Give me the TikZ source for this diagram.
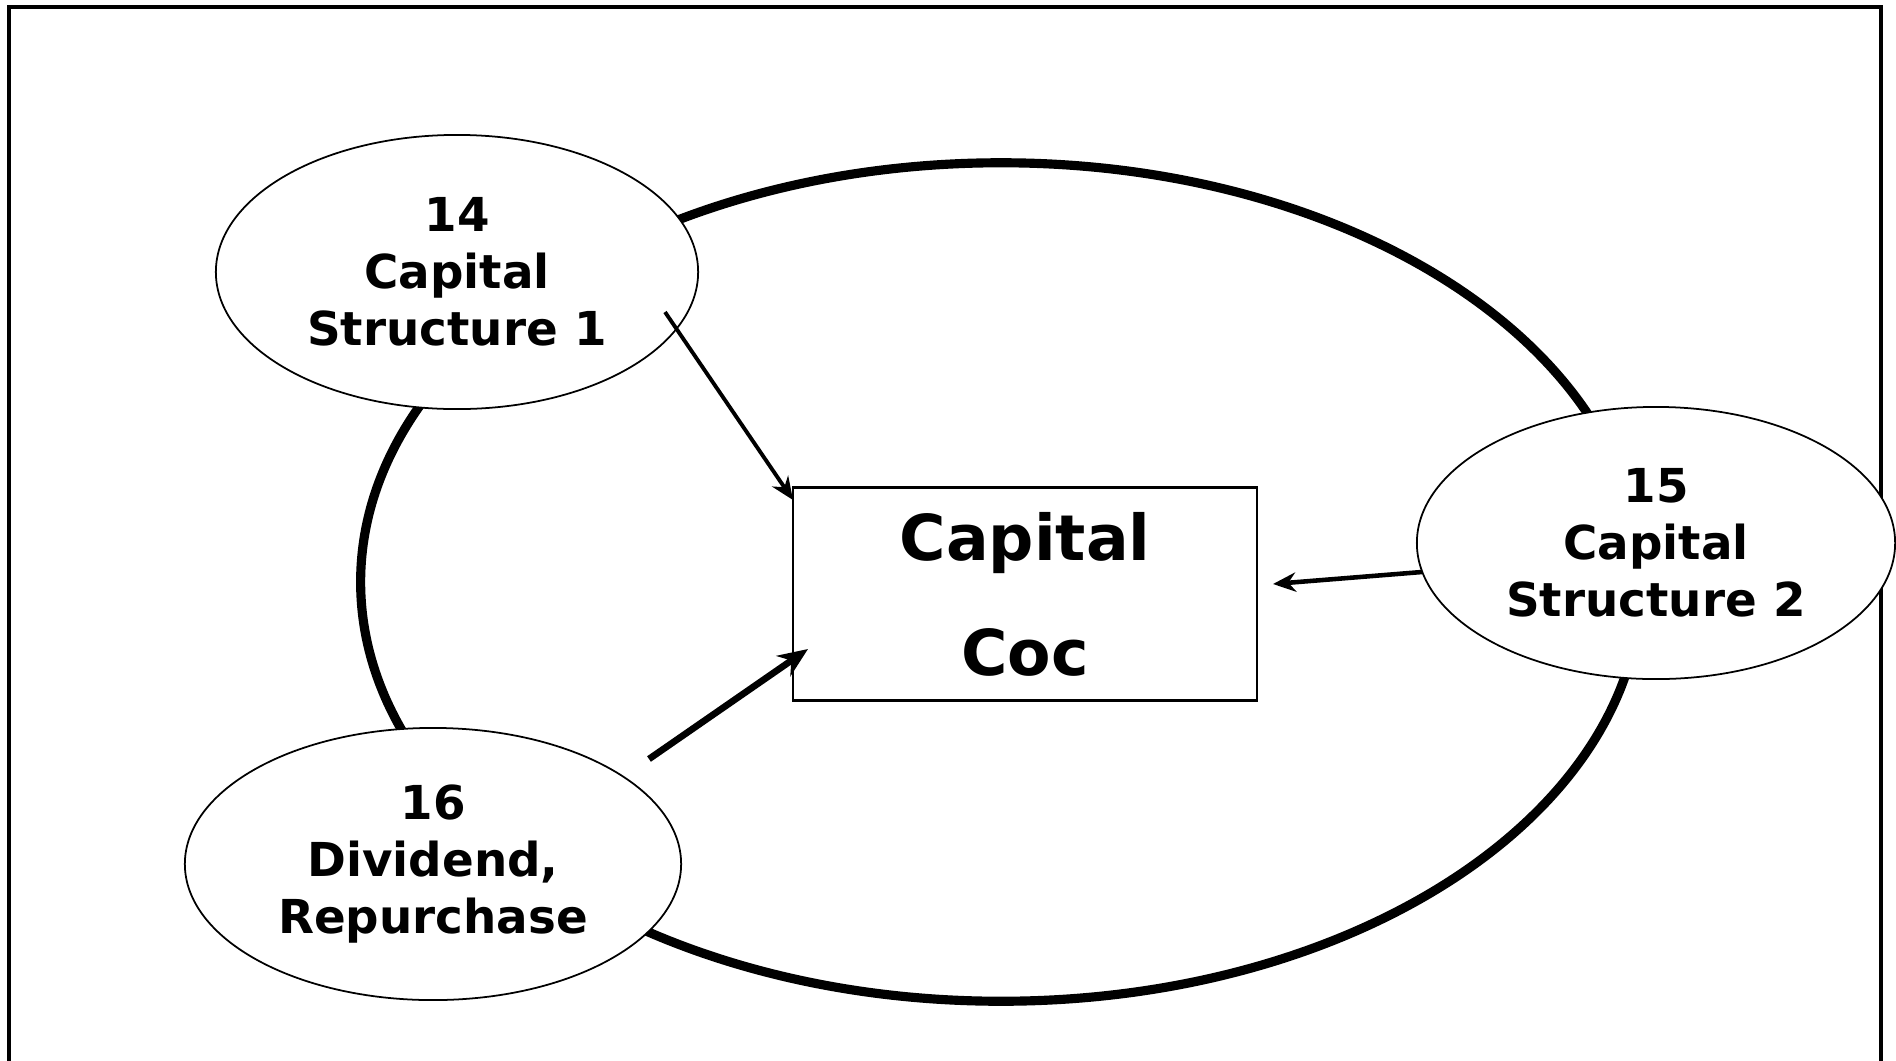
\documentclass[tikz,border=0pt]{standalone}
\usepackage{fontspec}
\setmainfont{DejaVu Sans}
\usetikzlibrary{shapes.geometric, arrows.meta}
\tikzset{
  topic/.style={draw, ellipse, fill=white, line width=0.5pt, inner sep=0pt, align=center,
    font=\fontsize{13.3}{16.2}\selectfont\bfseries},
  link/.style={->, >={Stealth[length=6.5pt, width=5.5pt]}},
}

\begin{document}
\begin{tikzpicture}[x=0.01cm, y=-0.01cm]
\useasboundingbox (0,0) rectangle (1896,1060);
\draw [line width=0.9pt] (9,1090) -- (9,7) -- (1881,7) -- (1881,1090);
\node [draw, ellipse, line width=2.6pt, minimum width=12.8cm, minimum height=8.38cm] (cycle) at (1001,582) {};
\node [draw, line width=0.7pt, minimum width=4.64cm, minimum height=2.13cm, align=center,
  font=\fontsize{18}{32.7}\selectfont\bfseries] (coc) at (1025,594) {Capital\\Coc};
\node [topic, minimum width=4.82cm, minimum height=2.74cm] (cs1) at (457,272) {14\\Capital\\Structure 1};
\node [topic, minimum width=4.78cm, minimum height=2.72cm] (cs2) at (1656,543) {15\\Capital\\Structure 2};
\node [topic, minimum width=4.96cm, minimum height=2.72cm] (div) at (433,864) {16\\Dividend,\\Repurchase};
% arrow ends
\coordinate (cs1out) at (665,312);
\coordinate (cocnw) at (793,500);
\coordinate (divout) at (649,759);
\coordinate (cocw) at (808,649);
\coordinate (cs2out) at (1422,572);
\coordinate (coce) at (1273,584);
\draw [link, line width=1.1pt] (cs1out) -- (cocnw);
\draw [link, line width=1.9pt, >={Stealth[length=8.5pt, width=7pt]}] (divout) -- (cocw);
\draw [link, line width=1.3pt] (cs2out) -- (coce);
\end{tikzpicture}
\end{document}
